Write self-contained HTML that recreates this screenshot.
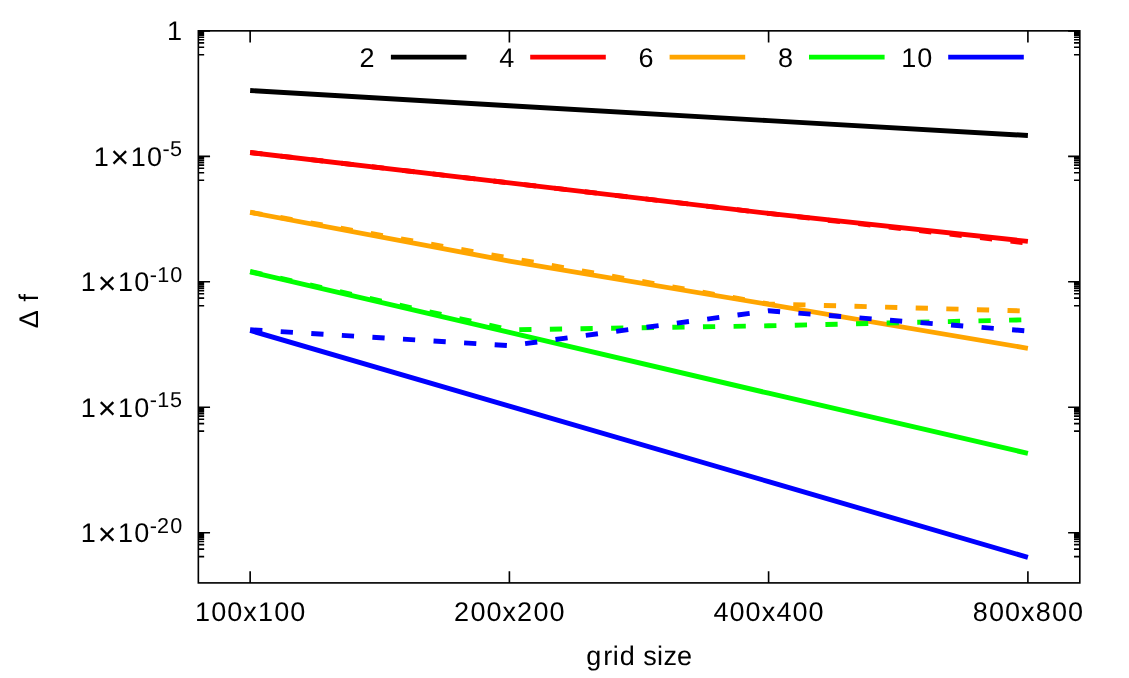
<!DOCTYPE html>
<html><head><meta charset="utf-8"><title>plot</title>
<style>html,body{margin:0;padding:0;background:#fff;}body{width:1129px;height:678px;overflow:hidden;}svg{display:block;will-change:transform;}text{font-family:"Liberation Sans",sans-serif;fill:#000;text-rendering:geometricPrecision;}</style>
</head><body>
<svg width="1129" height="678" viewBox="0 0 1129 678">
<rect x="0" y="0" width="1129" height="678" fill="#ffffff"/>
<path d="M198.35 30.85H210.05M1079.80 30.85H1068.10M198.35 54.79H204.15M1079.80 54.79H1074.00M198.35 47.24H204.15M1079.80 47.24H1074.00M198.35 42.82H204.15M1079.80 42.82H1074.00M198.35 39.69H204.15M1079.80 39.69H1074.00M198.35 37.26H204.15M1079.80 37.26H1074.00M198.35 35.27H204.15M1079.80 35.27H1074.00M198.35 33.59H204.15M1079.80 33.59H1074.00M198.35 32.13H204.15M1079.80 32.13H1074.00M198.35 156.31H210.05M1079.80 156.31H1068.10M198.35 180.26H204.15M1079.80 180.26H1074.00M198.35 172.70H204.15M1079.80 172.70H1074.00M198.35 168.28H204.15M1079.80 168.28H1074.00M198.35 165.15H204.15M1079.80 165.15H1074.00M198.35 162.72H204.15M1079.80 162.72H1074.00M198.35 160.73H204.15M1079.80 160.73H1074.00M198.35 159.05H204.15M1079.80 159.05H1074.00M198.35 157.60H204.15M1079.80 157.60H1074.00M198.35 281.78H210.05M1079.80 281.78H1068.10M198.35 305.72H204.15M1079.80 305.72H1074.00M198.35 298.17H204.15M1079.80 298.17H1074.00M198.35 293.75H204.15M1079.80 293.75H1074.00M198.35 290.61H204.15M1079.80 290.61H1074.00M198.35 288.18H204.15M1079.80 288.18H1074.00M198.35 286.19H204.15M1079.80 286.19H1074.00M198.35 284.51H204.15M1079.80 284.51H1074.00M198.35 283.06H204.15M1079.80 283.06H1074.00M198.35 407.24H210.05M1079.80 407.24H1068.10M198.35 431.18H204.15M1079.80 431.18H1074.00M198.35 423.63H204.15M1079.80 423.63H1074.00M198.35 419.21H204.15M1079.80 419.21H1074.00M198.35 416.07H204.15M1079.80 416.07H1074.00M198.35 413.64H204.15M1079.80 413.64H1074.00M198.35 411.66H204.15M1079.80 411.66H1074.00M198.35 409.98H204.15M1079.80 409.98H1074.00M198.35 408.52H204.15M1079.80 408.52H1074.00M198.35 532.70H210.05M1079.80 532.70H1068.10M198.35 556.64H204.15M1079.80 556.64H1074.00M198.35 549.09H204.15M1079.80 549.09H1074.00M198.35 544.67H204.15M1079.80 544.67H1074.00M198.35 541.54H204.15M1079.80 541.54H1074.00M198.35 539.11H204.15M1079.80 539.11H1074.00M198.35 537.12H204.15M1079.80 537.12H1074.00M198.35 535.44H204.15M1079.80 535.44H1074.00M198.35 533.98H204.15M1079.80 533.98H1074.00M250.15 582.90V571.20M250.15 30.85V42.55M509.40 582.90V571.20M509.40 30.85V42.55M768.60 582.90V571.20M768.60 30.85V42.55M1027.90 582.90V571.20M1027.90 30.85V42.55" stroke="#000" stroke-width="1.63" fill="none"/>
<path d="M250.15 90.50 L509.40 105.80 L768.60 120.60 L1027.90 135.50" stroke="#000000" stroke-width="4.90" fill="none"/>
<path d="M250.15 152.50 L509.40 182.90 L768.60 213.40 L1027.90 241.40" stroke="#ff0000" stroke-width="4.90" fill="none"/>
<path d="M250.15 152.50 L509.40 182.90 L768.60 213.40 L1027.90 243.10" stroke="#ff0000" stroke-width="4.90" stroke-dasharray="12.24 18.38" fill="none"/>
<path d="M250.15 212.40 L509.40 261.10 L768.60 304.40 L1027.90 348.30" stroke="#ffa500" stroke-width="4.90" fill="none"/>
<path d="M250.15 212.20 L509.40 258.00 L768.60 303.90 L1027.90 311.10" stroke="#ffa500" stroke-width="4.90" stroke-dasharray="12.24 18.38" fill="none"/>
<path d="M250.15 271.80 L509.40 332.40 L768.60 393.20 L1027.90 453.40" stroke="#00ff00" stroke-width="4.90" fill="none"/>
<path d="M250.15 271.50 L509.40 329.80 L768.60 325.80 L1027.90 319.70" stroke="#00ff00" stroke-width="4.90" stroke-dasharray="12.24 18.38" fill="none"/>
<path d="M250.15 330.50 L509.40 406.10 L768.60 481.60 L1027.90 557.40" stroke="#0000ff" stroke-width="4.90" fill="none"/>
<path d="M250.15 329.80 L509.40 345.70 L768.60 310.80 L1027.90 331.00" stroke="#0000ff" stroke-width="4.90" stroke-dasharray="12.24 18.38" fill="none"/>
<rect x="198.35" y="30.85" width="881.45" height="552.05" fill="none" stroke="#000" stroke-width="1.63"/>
<path d="M390.90 57.10H466.50" stroke="#000000" stroke-width="4.90" fill="none"/>
<path d="M530.20 57.10H605.80" stroke="#ff0000" stroke-width="4.90" fill="none"/>
<path d="M669.60 57.10H745.20" stroke="#ffa500" stroke-width="4.90" fill="none"/>
<path d="M809.00 57.10H884.60" stroke="#00ff00" stroke-width="4.90" fill="none"/>
<path d="M948.20 57.10H1023.80" stroke="#0000ff" stroke-width="4.90" fill="none"/>
<text y="66.90" font-size="27.00"><tspan x="359.44">2</tspan></text>
<text y="66.90" font-size="27.00"><tspan x="499.17">4</tspan></text>
<text y="66.90" font-size="27.00"><tspan x="638.57">6</tspan></text>
<text y="66.90" font-size="27.00"><tspan x="777.97">8</tspan></text>
<text y="66.90" font-size="27.00"><tspan x="901.19 917.37">10</tspan></text>
<text y="40.00" font-size="27.00"><tspan x="166.93">1</tspan></text>
<text y="165.71" font-size="27.00"><tspan x="93.65">1</tspan><tspan x="110.57" dy="2.72" font-size="31.88">×</tspan><tspan x="130.79" dy="-2.72">1</tspan><tspan x="146.97">0</tspan><tspan x="162.54" dy="-9.40" font-size="21.60">-</tspan><tspan x="170.10" font-size="21.60">5</tspan></text>
<text y="291.18" font-size="27.00"><tspan x="80.82">1</tspan><tspan x="97.74" dy="2.72" font-size="31.88">×</tspan><tspan x="117.97" dy="-2.72">1</tspan><tspan x="134.14">0</tspan><tspan x="149.71" dy="-9.40" font-size="21.60">-</tspan><tspan x="157.24" font-size="21.60">1</tspan><tspan x="170.18" font-size="21.60">0</tspan></text>
<text y="416.64" font-size="27.00"><tspan x="80.82">1</tspan><tspan x="97.74" dy="2.72" font-size="31.88">×</tspan><tspan x="117.97" dy="-2.72">1</tspan><tspan x="134.14">0</tspan><tspan x="149.71" dy="-9.40" font-size="21.60">-</tspan><tspan x="157.24" font-size="21.60">1</tspan><tspan x="170.10" font-size="21.60">5</tspan></text>
<text y="542.10" font-size="27.00"><tspan x="80.82">1</tspan><tspan x="97.74" dy="2.72" font-size="31.88">×</tspan><tspan x="117.97" dy="-2.72">1</tspan><tspan x="134.14">0</tspan><tspan x="149.71" dy="-9.40" font-size="21.60">-</tspan><tspan x="157.08" font-size="21.60">2</tspan><tspan x="170.18" font-size="21.60">0</tspan></text>
<text y="621.30" font-size="27.00"><tspan x="194.96 211.13 227.16 243.34 257.97 274.14 290.17">100x100</tspan></text>
<text y="621.30" font-size="27.00"><tspan x="454.01 470.38 486.41 502.59 517.03 533.39 549.42">200x200</tspan></text>
<text y="621.30" font-size="27.00"><tspan x="713.55 729.58 745.61 761.79 776.56 792.59 808.62">400x400</tspan></text>
<text y="621.30" font-size="27.00"><tspan x="972.85 988.88 1004.91 1021.09 1035.86 1051.89 1067.92">800x800</tspan></text>
<text y="664.80" font-size="27.00"><tspan x="586.33 603.14 612.86 619.69 635.34 643.35 656.99 663.47 677.00">grid size</tspan></text>
<text y="0.00" font-size="27.00" transform="translate(37.7 310.80) rotate(-90)"><tspan x="-17.46 0.18 9.19">Δ f</tspan></text>
</svg>
</body></html>
